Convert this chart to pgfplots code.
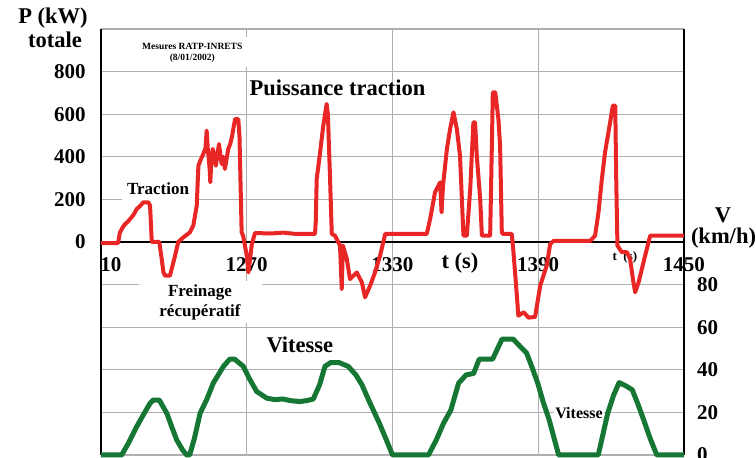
\documentclass[border=0pt]{standalone}
\usepackage{fontspec}
\setmainfont{Liberation Serif}
\usepackage{pgfplots}
\pgfplotsset{compat=1.18}
\usepackage{pgfplotstable}

\definecolor{tracred}{RGB}{232,38,38}
\definecolor{vitgreen}{RGB}{22,118,52}
\definecolor{gridgray}{RGB}{175,175,175}

% Puissance totale (kW) en fonction du temps (s)
\pgfplotstableread{
t P
1210 -5
1217 -5
1217.8 45
1219.0 70
1219.9 84
1221.0 95
1222.6 116
1223.5 130
1224.7 155
1226.0 168
1227.4 186
1229.5 186
1230.2 170
1230.9 0
1234.0 0
1235.0 -80
1235.7 -143
1236.4 -158
1238.4 -158
1240.5 -64
1241.8 0
1243.9 22
1246.6 45
1248.0 77
1249.4 170
1250.1 358
1250.8 380
1252.1 413
1253.0 440
1253.5 523
1254.0 430
1254.3 400
1254.8 330
1255.0 280
1255.5 400
1256.0 437
1256.7 390
1257.3 358
1258.0 420
1258.6 460
1259.2 400
1259.7 366
1260.3 400
1261.0 343
1261.7 390
1262.4 437
1263.2 460
1264.0 499
1264.6 540
1265.2 577
1266.5 577
1267.0 500
1267.9 45
1268.5 30
1270.0 -64
1270.7 -143
1272.1 -10
1273.4 42
1280 40
1285 44
1290 38
1298.1 38
1298.4 92
1298.8 296
1300.2 421
1301.5 546
1302.9 648
1303.4 600
1304.3 296
1305.0 38
1306.3 30
1308.4 -17
1309.1 -221
1309.6 -17
1311.2 -80
1312.5 -174
1315.3 -143
1317.4 -190
1318.7 -260
1320.8 -205
1322.8 -143
1324.9 -64
1327.0 38
1344.1 38
1345.5 108
1347.5 233
1349.6 280
1350.2 139
1350.8 266
1352.4 437
1353.7 530
1355.1 609
1356.5 530
1357.8 405
1359.2 30
1360.6 30
1362.0 249
1363.3 562
1364.0 562
1364.7 405
1366.1 202
1366.8 30
1370.2 30
1370.9 452
1371.3 703
1372.3 703
1373.6 577
1374.3 452
1375.0 45
1375.5 38
1379.1 38
1379.8 -48
1381.2 -252
1381.8 -346
1384.0 -330
1386.0 -355
1388.7 -352
1390.8 -205
1393.5 -111
1394.9 -9
1396.3 5
1411.4 5
1413.4 30
1414.8 139
1416.2 296
1417.5 421
1419.6 562
1420.7 640
1421.7 640
1422.1 296
1422.6 -17
1424.4 -48
1426.5 -48
1427.8 -80
1429.2 -190
1429.9 -236
1431.3 -190
1434.0 -64
1436.1 30
1450 30
}\puissance

% Vitesse (km/h) en fonction du temps (s)
\pgfplotstableread{
t V
1210 0
1218.5 0
1221.5 6
1224.7 13.3
1227.5 19
1230.2 24.3
1231.5 25.8
1234.0 25.8
1237.1 19.6
1239.2 13
1241.2 7
1243.5 2.5
1245.3 0
1246.5 0
1248.5 8
1250.8 19.6
1253.5 26
1256.2 33.7
1260.4 41.6
1263.0 45
1265.0 45
1268.6 41.6
1271.0 36
1274.1 29.8
1278.2 26.7
1281.5 26
1284.9 26.3
1288.0 25.5
1291.9 25.1
1295.0 25.6
1297.4 26.3
1300.0 33
1302.2 41.6
1304.5 43.4
1308.0 43.4
1311.8 41.6
1315.0 37.5
1317.4 33
1320.5 25
1324.6 14.9
1327.5 7
1330.0 0
1344.8 0
1348.0 7
1351.0 14.9
1354.0 21
1357.2 33.7
1360.3 37.6
1363.4 38.3
1365.7 45
1371.2 45
1375.1 54.4
1379.7 54.4
1382.5 51
1385.2 47.9
1387.5 41
1389.8 33.7
1392.0 25
1394.5 16.5
1396.5 8
1398.4 0
1414.7 0
1416.5 9
1418.6 19.6
1421.0 28
1423.3 34
1426.0 32.5
1428.7 30.6
1431.0 24
1433.4 16.5
1436.0 8
1438.8 0
1450 0
}\vitesse

\tikzset{bignum/.style={font=\fontsize{21}{21}\selectfont\bfseries}}
\newcommand{\bigtxt}{\fontsize{22.5}{22.5}\selectfont\bfseries}
\pgfplotsset{
  base/.style={scale only axis, width=583pt, height=426pt,
    xmin=1210, xmax=1450, at={(0pt,0pt)}, anchor=south west, clip=false},
}

\begin{document}
\begin{tikzpicture}
\useasboundingbox (-101pt,-3pt) rectangle (655pt,455pt);

% grille, cadre et textes
\begin{axis}[base, ymin=-1000, ymax=1000,
  xtick={1270,1330,1390}, xticklabels={},
  ytick={-1000,-800,...,1000},
  yticklabels={,,,,,0,200,400,600,800,},
  xmajorgrids, ymajorgrids,
  major grid style={gridgray, line width=1.2pt},
  axis line style={draw=none}, major tick length=0pt,
  yticklabel style={bignum, inner sep=0pt, xshift=-15pt, anchor=east},
]
% cadres blancs des étiquettes
\node[fill=white, minimum width=114pt, minimum height=30pt, inner sep=0pt]
  at (axis cs:1247.9,892) {};
\node[align=center, font=\fontsize{9.5}{11}\selectfont\bfseries]
  at (axis cs:1247.6,890) {Mesures RATP-INRETS\\(8/01/2002)};
\node[fill=white, minimum width=73pt, minimum height=23pt, inner sep=0pt,
  font=\fontsize{17}{17}\selectfont\bfseries] at (axis cs:1233.5,250) {Traction};
\node[fill=white, minimum width=123pt, minimum height=42pt, inner sep=0pt,
  align=center, font=\fontsize{17}{20}\selectfont\bfseries]
  at (axis cs:1250.8,-282) {Freinage\\récupératif};
\node[fill=white, minimum width=50pt, minimum height=14pt, inner sep=0pt,
  font=\fontsize{16}{16}\selectfont\bfseries] at (axis cs:1406.8,-803) {Vitesse};
\node[font=\bigtxt] at (axis cs:1307.4,723) {Puissance traction};
\node[font=\bigtxt] at (axis cs:1291.9,-484) {Vitesse};
\node[font=\bigtxt] at (axis cs:1357.8,-99) {t (s)};
\node[font=\fontsize{13}{13}\selectfont\bfseries] at (axis cs:1425.7,-72) {t~~(s)};
% graduations du temps
\node[bignum] at (axis cs:1214.1,-108) {10};
\node[bignum] at (axis cs:1270,-108) {1270};
\node[bignum] at (axis cs:1330,-108) {1330};
\node[bignum] at (axis cs:1390,-108) {1390};
\node[bignum] at (axis cs:1450,-108) {1450};
% axes noirs
\draw[line width=1.3pt] (axis cs:1210,0) -- (axis cs:1450,0);
\draw[line width=1.8pt] (axis cs:1210,-1000) -- (axis cs:1210,1000);
\draw[line width=1.8pt] (axis cs:1450,-1000) -- (axis cs:1450,1000);
\pgfplotsinvokeforeach{1220,1230,...,1440}{
  \draw[line width=1.2pt] (axis cs:#1,0) ++(0,-5pt) -- ++(0,10pt);
}
\pgfplotsinvokeforeach{-1000,-800,...,1000}{
  \draw[line width=1.2pt] (axis cs:1210,#1) ++(-5pt,0) -- ++(10pt,0);
  \draw[line width=1.2pt] (axis cs:1450,#1) ++(-5pt,0) -- ++(10pt,0);
}
\end{axis}

% puissance
\begin{axis}[base, ymin=-1000, ymax=1000, hide axis]
\addplot[tracred, line width=4pt, line join=round] table[x=t, y=P] {\puissance};
\end{axis}

% vitesse
\begin{axis}[base, ymin=0, ymax=200,
  axis x line=none, axis y line*=right, axis line style={draw=none},
  ytick={0,20,40,60,80}, yticklabels={0,20,40,60,80},
  yticklabel pos=right, major tick length=0pt,
  yticklabel style={bignum, inner sep=0pt, xshift=13pt, anchor=west},
]
\addplot[vitgreen, line width=5pt, line join=round] table[x=t, y=V] {\vitesse};
\end{axis}

% titres des axes
\node[font=\bigtxt] at (-48pt,437pt) {P (kW)};
\node[font=\bigtxt] at (-46pt,415pt) {totale};
\node[font=\bigtxt] at (622pt,240pt) {V};
\node[font=\bigtxt] at (622.5pt,217pt) {(km/h)};
\end{tikzpicture}
\end{document}
